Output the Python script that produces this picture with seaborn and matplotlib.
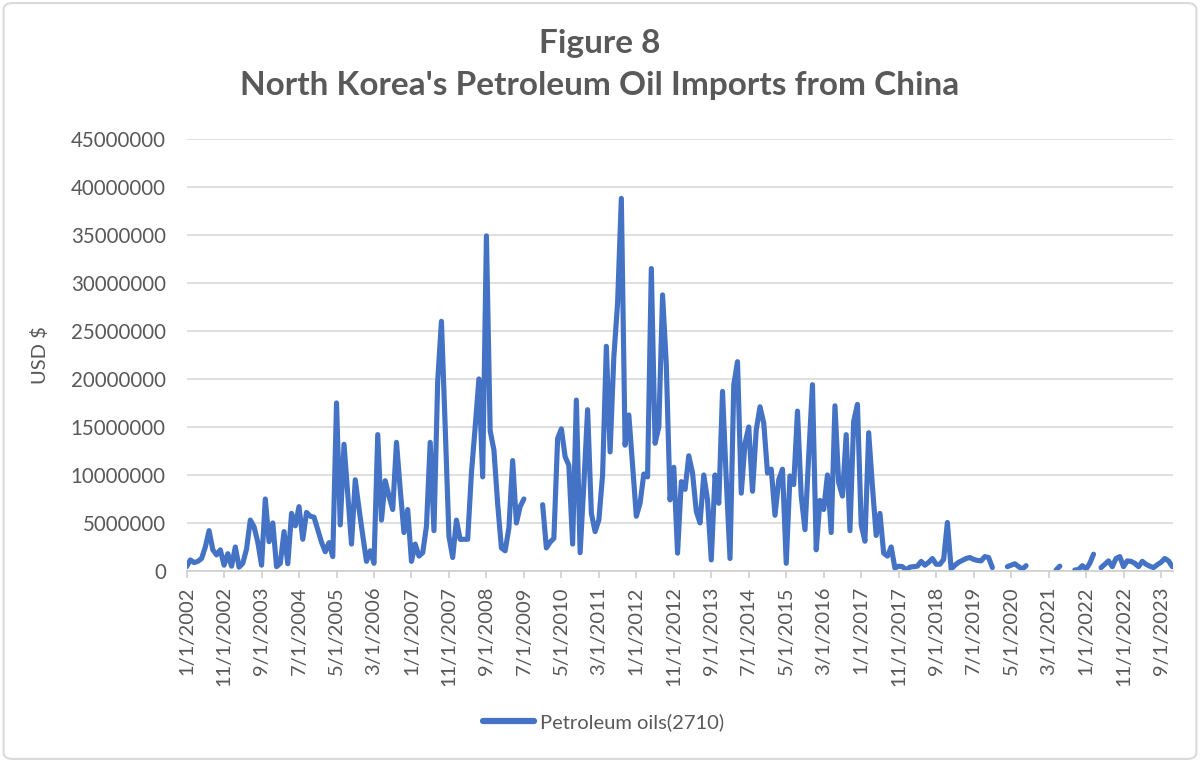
import numpy as np
import pandas as pd
import matplotlib
matplotlib.use('Agg')
import matplotlib.pyplot as plt
import seaborn as sns
from matplotlib.lines import Line2D
from matplotlib.patches import FancyBboxPatch

# monthly imports, million USD, one row per year
nan = np.nan
imports_musd = [
    0.45, 1.15, 0.87, 1.0, 1.3, 2.5, 4.2, 2.2, 1.67, 2.2, 0.6, 1.8,        # 2002
    0.5, 2.5, 0.4, 0.8, 2.3, 5.3, 4.6, 3.0, 0.6, 7.5, 3.05, 5.0,          # 2003
    0.45, 0.8, 4.1, 0.75, 6.0, 4.7, 6.7, 3.3, 6.1, 5.7, 5.6, 4.3,         # 2004
    3.0, 2.0, 2.95, 1.5, 17.5, 4.8, 13.2, 8.0, 2.8, 9.5, 6.5, 3.7,        # 2005
    1.0, 2.1, 0.8, 14.2, 5.3, 9.4, 7.8, 6.4, 13.4, 8.5, 4.0, 6.4,         # 2006
    1.0, 2.8, 1.55, 1.9, 4.65, 13.4, 4.2, 19.8, 26.0, 15.0, 3.6, 1.4,     # 2007
    5.3, 3.3, 3.3, 3.3, 10.2, 15.0, 20.0, 9.8, 34.9, 14.6, 12.6, 7.0,     # 2008
    2.4, 2.1, 4.5, 11.5, 5.0, 6.7, 7.5, nan, nan, nan, nan, 6.9,          # 2009
    2.4, 3.0, 3.4, 13.8, 14.8, 11.9, 11.0, 2.8, 17.8, 1.9, 9.0, 16.8,     # 2010
    6.0, 4.1, 5.3, 10.0, 23.4, 12.4, 22.3, 27.9, 38.8, 13.1, 16.25, 11.0, # 2011
    5.7, 7.05, 10.1, 9.8, 31.5, 13.3, 15.0, 28.75, 21.5, 7.4, 10.8, 1.85, # 2012
    9.3, 8.5, 12.0, 10.2, 6.2, 5.0, 10.0, 7.4, 1.15, 10.0, 7.05, 18.7,    # 2013
    9.5, 1.3, 19.4, 21.8, 8.1, 13.3, 15.0, 8.3, 14.7, 17.1, 15.4, 10.2,   # 2014
    10.6, 5.8, 9.5, 10.6, 0.8, 9.9, 9.0, 16.65, 7.8, 4.3, 12.0, 19.4,     # 2015
    2.2, 7.35, 6.4, 10.0, 4.0, 17.2, 9.2, 7.8, 14.2, 4.2, 15.6, 17.35,    # 2016
    4.8, 3.1, 14.4, 8.8, 3.7, 6.0, 1.85, 1.55, 2.5, 0.3, 0.5, 0.45,       # 2017
    0.1, 0.4, 0.45, 0.5, 1.0, 0.6, 0.9, 1.3, 0.7, 0.7, 1.2, 5.05,         # 2018
    0.2, 0.6, 0.9, 1.1, 1.3, 1.4, 1.2, 1.1, 1.05, 1.5, 1.4, 0.35,         # 2019
    nan, nan, nan, 0.45, 0.6, 0.75, 0.45, 0.2, 0.55, nan, nan, nan,       # 2020
    nan, nan, nan, nan, 0.1, 0.5, nan, nan, nan, 0.1, 0.15, 0.55,         # 2021
    0.2, 0.8, 1.75, nan, 0.35, 0.7, 1.05, 0.45, 1.3, 1.5, 0.45, 1.05,     # 2022
    1.0, 0.8, 0.45, 1.0, 0.7, 0.5, 0.35, 0.65, 0.9, 1.3, 1.05, 0.45,      # 2023
]
months = pd.date_range('2002-01-01', periods=len(imports_musd), freq='MS')
tick_every = 10
y_ticks = [0, 5e6, 10e6, 15e6, 20e6, 25e6, 30e6, 35e6, 40e6, 45e6]

df = pd.DataFrame({'idx': np.arange(len(months)),
                   'value': np.array(imports_musd) * 1e6})
# split into segments so gaps stay gaps
df['seg'] = df['value'].isna().cumsum()
df = df.dropna()

sns.set_theme(style='white')
plt.rcParams['font.family'] = ['Lato', 'DejaVu Sans']
grey_txt = '#595959'
blue = '#4472C4'

fig = plt.figure(figsize=(12, 7.62), dpi=100)
ax = fig.add_axes([0.1555, 0.2507, 0.822, 0.567])

sns.lineplot(data=df, x='idx', y='value', units='seg', estimator=None,
             color=blue, lw=3.7, ax=ax, legend=False,
             solid_capstyle='round', solid_joinstyle='round')

ax.set_xlim(0, len(months) - 0.8)
ax.set_ylim(0, 45e6)
ax.set_yticks(y_ticks)
ax.set_yticklabels([f'{int(v)}' for v in y_ticks])
tick_pos = list(range(0, len(months), tick_every))
ax.set_xticks(tick_pos)
ax.set_xticklabels([f'{months[i].month}/1/{months[i].year}' for i in tick_pos],
                   rotation=90)

ax.yaxis.grid(True, color='#D9D9D9', lw=1.2)
ax.xaxis.grid(False)
for s in ['top', 'right', 'left']:
    ax.spines[s].set_visible(False)
ax.spines['bottom'].set_color('#D0D0D0')
ax.spines['bottom'].set_linewidth(1.2)
ax.tick_params(axis='y', length=0, labelsize=14.8, labelcolor=grey_txt, pad=15)
ax.tick_params(axis='x', length=5, width=1.2, color='#D0D0D0', labelsize=14.5,
               labelcolor=grey_txt, pad=6, bottom=True)

ax.set_xlabel('')
ax.set_ylabel('USD $', fontsize=14.5, color=grey_txt)
ax.yaxis.set_label_coords(-0.139, 0.5)

fig.text(0.5, 1 - 44 / 762, 'Figure 8', ha='center', va='center',
         fontsize=24, fontweight='bold', color=grey_txt)
fig.text(0.5, 1 - 86 / 762, "North Korea's Petroleum Oil Imports from China",
         ha='center', va='center', fontsize=24, fontweight='bold', color=grey_txt)

handle = Line2D([0], [0], color=blue, lw=4.5, solid_capstyle='round')
fig.legend(handles=[handle], labels=['Petroleum oils(2710)'], loc='center',
           bbox_to_anchor=(0.503, 1 - 722 / 762), frameon=False, fontsize=14.5,
           handlelength=2.5, handletextpad=0.3, labelcolor=grey_txt)

border = FancyBboxPatch((0.003, 0.004), 0.994, 0.992,
                        boxstyle='round,pad=0,rounding_size=0.008',
                        transform=fig.transFigure, fc='none', ec='#D9D9D9', lw=1.5)
fig.patches.append(border)

fig.savefig('out.png', dpi=100)
